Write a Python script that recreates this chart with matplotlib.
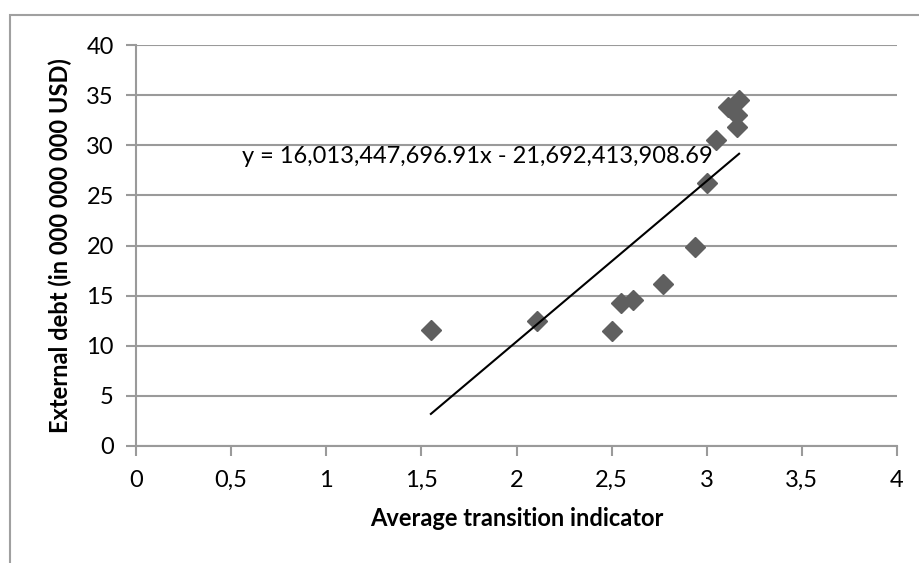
import numpy as np
import matplotlib.pyplot as plt
from matplotlib.patches import Rectangle

# average transition indicator vs external debt (bn USD)
transition = [1.55, 2.11, 2.50, 2.55, 2.61, 2.77, 2.94, 3.00, 3.05, 3.16, 3.16, 3.11, 3.17]
debt = [11.6, 12.5, 11.5, 14.3, 14.6, 16.2, 19.9, 26.2, 30.5, 31.8, 33.0, 33.8, 34.5]
equation = "y = 16,013,447,696.91x - 21,692,413,908.69"

x_ticks = [0, 0.5, 1, 1.5, 2, 2.5, 3, 3.5, 4]
y_ticks = [0, 5, 10, 15, 20, 25, 30, 35, 40]

plt.rcParams['font.family'] = ['Lato', 'DejaVu Sans']

fig = plt.figure(figsize=(9.19, 5.63), dpi=100)
ax = fig.add_axes([136 / 919, 1 - 446 / 563, (897 - 136) / 919, (446 - 45) / 563])

# outer chart border (only top/left visible)
fig.patches.append(Rectangle((9.5 / 919, -0.2), 1.2, 1.2 - 15 / 563,
                             transform=fig.transFigure, fill=False,
                             edgecolor='#a0a0a0', linewidth=1.5))

grid_col = '#9a9a9a'
ax.set_xlim(0, 4)
ax.set_ylim(0, 40)
ax.set_xticks(x_ticks)
ax.set_yticks(y_ticks)
ax.set_xticklabels([str(t).replace('.', ',') if t != int(t) else str(int(t)) for t in x_ticks])
ax.set_yticklabels([str(t) for t in y_ticks])
ax.yaxis.grid(True, color=grid_col, linewidth=1.5)
ax.set_axisbelow(True)
for side in ['top', 'right']:
    ax.spines[side].set_visible(False)
for side in ['left', 'bottom']:
    ax.spines[side].set_color(grid_col)
    ax.spines[side].set_linewidth(1.5)
ax.tick_params(axis='both', colors=grid_col, length=7, width=1.5, labelsize=17,
               labelcolor='black')
ax.tick_params(axis='x', pad=10)
ax.tick_params(axis='y', pad=9)

ax.plot(transition, debt, linestyle='none', marker='D', markersize=10,
        color='#5f5f5f', zorder=3)

# linear trend
slope, intercept = np.polyfit(transition, debt, 1)
xs = np.array([min(transition), max(transition)])
ax.plot(xs, slope * xs + intercept, color='black', linewidth=1.5, zorder=4)
ax.text(1.793, 28.85, equation, fontsize=17, ha='center', va='center', zorder=5)

ax.set_xlabel('Average transition indicator', fontsize=17, fontweight='bold', labelpad=12)
ax.set_ylabel('External debt (in 000 000 000 USD)', fontsize=17, fontweight='bold', labelpad=10)

fig.savefig('out.png', dpi=100)
